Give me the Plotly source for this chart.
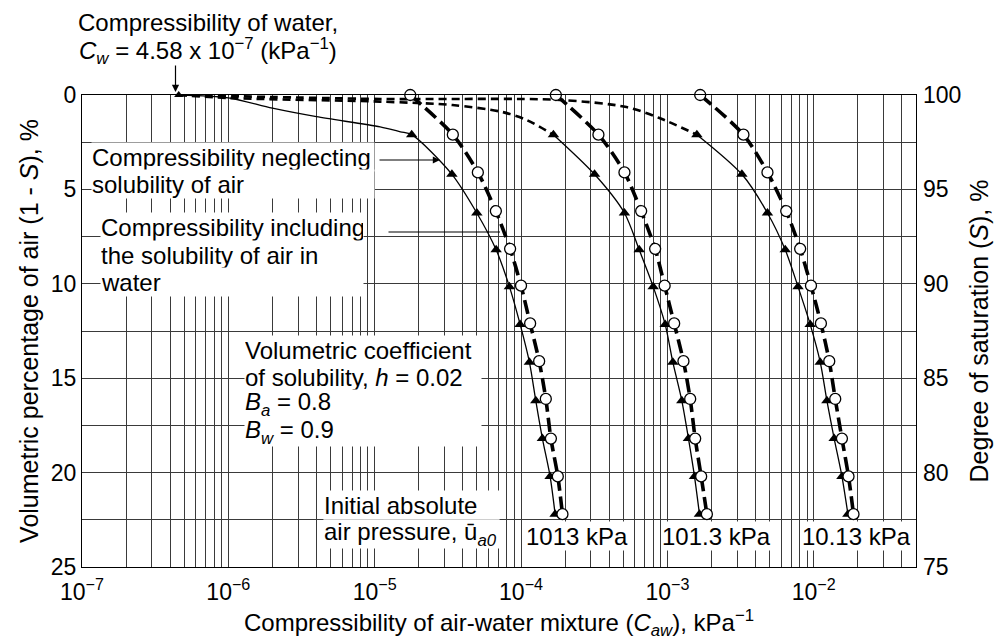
import plotly.graph_objects as go

# ---------------- data ----------------
cw_water = 4.58e-7  # compressibility of water, kPa^-1

circ_air = [0, 2.1, 4.1, 6.15, 8.15, 10.1, 12.1, 14.1, 16.1, 18.2, 20.2, 22.2]
tri_air = [2.1, 4.2, 6.25, 8.2, 10.15, 12.15, 14.15, 16.2, 18.2, 20.2, 22.2]

# including solubility (open circles, thick dashed)
c1013_circ = [1.75e-5, 3.42e-5, 5.07e-5, 6.73e-5, 8.42e-5, 1.00e-4, 1.154e-4, 1.33e-4, 1.477e-4, 1.60e-4, 1.784e-4, 1.919e-4]
c101_circ = [1.73e-4, 3.38e-4, 5.09e-4, 6.62e-4, 8.25e-4, 9.58e-4, 1.113e-3, 1.288e-3, 1.432e-3, 1.549e-3, 1.702e-3, 1.862e-3]
c10_circ = [1.676e-3, 3.31e-3, 4.83e-3, 6.49e-3, 8.08e-3, 9.58e-3, 1.12e-2, 1.277e-2, 1.403e-2, 1.559e-2, 1.729e-2, 1.87e-2]

# neglecting solubility (filled triangles, thin solid)
c1013_tri = [1.79e-5, 3.37e-5, 4.99e-5, 6.76e-5, 8.33e-5, 9.86e-5, 1.141e-4, 1.262e-4, 1.40e-4, 1.58e-4, 1.71e-4]
c101_tri = [1.665e-4, 3.18e-4, 5.09e-4, 6.42e-4, 8.0e-4, 9.66e-4, 1.09e-3, 1.256e-3, 1.394e-3, 1.532e-3, 1.657e-3]
c10_tri = [1.591e-3, 3.23e-3, 4.83e-3, 6.39e-3, 7.81e-3, 9.46e-3, 1.108e-2, 1.231e-2, 1.38e-2, 1.559e-2, 1.713e-2]

# connector curves from the water point to the first triangle
conn1013_x = [4.58e-7, 1.0e-6, 2.0e-6, 4.0e-6, 1.09e-5, 1.5e-5, 1.79e-5]
conn1013_y = [0, 0.15, 0.7, 1.15, 1.69, 1.95, 2.1]
conn101_x = [4.58e-7, 1.0e-6, 1.09e-5, 3.4e-5, 7.45e-5, 1.09e-4, 1.665e-4]
conn101_y = [0, 0.16, 0.35, 0.53, 0.9, 1.32, 2.1]
conn10_x = [4.58e-7, 1.09e-5, 1.84e-4, 5.26e-4, 8.83e-4, 1.591e-3]
conn10_y = [0, 0.21, 0.26, 0.64, 1.22, 2.1]

pressure_labels = ["1013 kPa", "101.3 kPa", "10.13 kPa"]
x_decades = [-7, -6, -5, -4, -3, -2]
y_left_ticks = [0, 5, 10, 15, 20, 25]
y_right_ticks = [75, 80, 85, 90, 95, 100]

# ---------------- styling ----------------
FONT = "Liberation Sans, Arial, Helvetica, sans-serif"
FS = 23
AFS = 24
GRID = "#3a3a3a"
# plot area in window pixels (page body adds an 8px offset)
L, R, T, B = 82, 916, 95, 567
OFF = 8
W, H = 1005 - OFF, 640 - OFF


def px(x):
    return (x - L) / (R - L)


def py(y):
    return (B - y) / (B - T)


fig = go.Figure()

thin = dict(color="black", width=1.3)
thick = dict(color="black", width=3.6, dash="14px,6px")
short = dict(color="black", width=2.6, dash="8px,5px")
circ_m = dict(symbol="circle", size=11, color="white", line=dict(color="black", width=1.3))
tri_m = dict(symbol="triangle-up", size=10, color="black")

# dashed connectors for 101.3 and 10.13 kPa
for cx, cy in [(conn101_x, conn101_y), (conn10_x, conn10_y)]:
    fig.add_trace(go.Scatter(x=cx, y=cy, mode="lines", line=dict(shape="spline", smoothing=0.8, **short),
                             cliponaxis=False, showlegend=False, hoverinfo="skip"))

# 1013 kPa solid connector + triangle curve
fig.add_trace(go.Scatter(x=conn1013_x + c1013_tri[1:], y=conn1013_y + tri_air[1:], mode="lines",
                         line=dict(shape="spline", smoothing=0.8, **thin), cliponaxis=False,
                         showlegend=False, hoverinfo="skip"))
for tx in [c101_tri, c10_tri]:
    fig.add_trace(go.Scatter(x=tx, y=tri_air, mode="lines", line=dict(shape="spline", smoothing=0.8, **thin),
                             cliponaxis=False, showlegend=False, hoverinfo="skip"))

# thick dashed curves with circles
for cx in [c1013_circ, c101_circ, c10_circ]:
    fig.add_trace(go.Scatter(x=cx, y=circ_air, mode="lines", line=dict(shape="spline", smoothing=0.8, **thick),
                             cliponaxis=False, showlegend=False, hoverinfo="skip"))

# markers
for tx in [c1013_tri, c101_tri, c10_tri]:
    fig.add_trace(go.Scatter(x=tx, y=tri_air, mode="markers", marker=tri_m, cliponaxis=False,
                             showlegend=False, hoverinfo="skip"))
for cx in [c1013_circ, c101_circ, c10_circ]:
    fig.add_trace(go.Scatter(x=cx, y=circ_air, mode="markers", marker=circ_m, cliponaxis=False,
                             showlegend=False, hoverinfo="skip"))
fig.add_trace(go.Scatter(x=[cw_water], y=[0], mode="markers",
                         marker=dict(symbol="triangle-up", size=8, color="black"),
                         cliponaxis=False, showlegend=False, hoverinfo="skip"))

# right axis carrier (invisible)
fig.add_trace(go.Scatter(x=[cw_water], y=[100], yaxis="y2", mode="markers", marker=dict(opacity=0),
                         showlegend=False, hoverinfo="skip"))

# ---------------- ticks ----------------
xtickvals = [10.0 ** d for d in x_decades]
xticktext = ["10<sup>\u2212%d</sup>" % (-d) for d in x_decades]
xminor = []
for d in x_decades:
    for m in range(2, 10):
        v = m * 10.0 ** d
        if v < 0.0501:
            xminor.append(v)

ann = []


def text_line(txt, x, y, width=None, xanchor="left", align="left", box=True):
    a = dict(text=txt, x=px(x), y=py(y), xref="paper", yref="paper", showarrow=False,
             xanchor=xanchor, yanchor="middle", align=align, borderpad=0,
             font=dict(family=FONT, size=AFS, color="black"))
    if box:
        a["bgcolor"] = "white"
        a["height"] = 28
    if width:
        a["width"] = width
    ann.append(a)


# top water annotation
text_line("Compressibility of water,", 208, 22, xanchor="center", align="center", box=False)
text_line("<i>C<sub>w</sub></i> = 4.58 x 10<sup>\u22127</sup> (kPa<sup>\u22121</sup>)", 208, 51,
          xanchor="center", align="center", box=False)
# box A
text_line("Compressibility neglecting", 91, 157, width=282)
text_line("solubility of air", 91, 184, width=282)
# box B
text_line("Compressibility including", 100, 227, width=262)
text_line("the solubility of air in", 100, 255, width=262)
text_line("water", 100, 282, width=262)
# box C
text_line("Volumetric coefficient", 244, 350, width=236)
text_line("of solubility, <i>h</i> = 0.02", 244, 377, width=236)
text_line("<i>B<sub>a</sub></i> = 0.8", 244, 404, width=236)
text_line("<i>B<sub>w</sub></i> = 0.9", 244, 432, width=236)
# box D
text_line("Initial absolute", 323, 505, width=175)
text_line("air pressure, \u016b<sub><i>a0</i></sub>", 323, 534, width=175)
# pressure labels
for lab, xc in zip(pressure_labels, [577, 716, 856]):
    text_line(lab, xc, 536, xanchor="center", align="center")

# arrows
for hx, hy, axp, ayp, head in [(440, 160, -62, 0, 2), (500, 232, -113, 0, 0), (175.5, 92, 0, -28, 2)]:
    ann.append(dict(x=px(hx), y=py(hy), xref="paper", yref="paper", text="", showarrow=True,
                    ax=axp, ay=ayp, arrowhead=head, arrowsize=1.2, arrowwidth=1.2, arrowcolor="black"))

fig.update_layout(
    width=W, height=H,
    margin=dict(l=L - OFF, r=W - (R - OFF), t=T - OFF, b=H - (B - OFF), autoexpand=False),
    plot_bgcolor="white", paper_bgcolor="white",
    font=dict(family=FONT, size=FS, color="black"),
    annotations=ann,
    xaxis=dict(type="log", range=[-7, -1.301], tickvals=xtickvals, ticktext=xticktext,
               showgrid=True, gridcolor=GRID, gridwidth=1,
               minor=dict(tickmode="array", tickvals=xminor, showgrid=True, gridcolor=GRID, gridwidth=1, ticks=""),
               showline=True, linecolor="black", linewidth=1.2, mirror=True, ticks="", zeroline=False,
               tickfont=dict(size=FS), automargin=False, ticklabelstandoff=4,
               title=dict(text="Compressibility of air-water mixture (<i>C<sub>aw</sub></i>), kPa<sup>\u22121</sup>",
                          font=dict(size=24), standoff=16)),
    yaxis=dict(range=[25, 0], tickvals=y_left_ticks, showgrid=True, gridcolor=GRID, gridwidth=1,
               minor=dict(dtick=2.5, showgrid=True, gridcolor=GRID, gridwidth=1, ticks=""),
               showline=True, linecolor="black", linewidth=1.2, mirror=True, ticks="", zeroline=False,
               tickfont=dict(size=FS), automargin=False,
               title=dict(text="Volumetric percentage of air (1 - <i>S</i>), %", font=dict(size=25), standoff=4)),
    yaxis2=dict(range=[75, 100], tickvals=y_right_ticks, overlaying="y", side="right", showgrid=False,
                ticks="", zeroline=False, showline=False, tickfont=dict(size=FS), automargin=False,
                ticklabelstandoff=6,
                title=dict(text="Degree of saturation (<i>S</i>), %", font=dict(size=25), standoff=10)),
)

fig.write_html("out.html")
